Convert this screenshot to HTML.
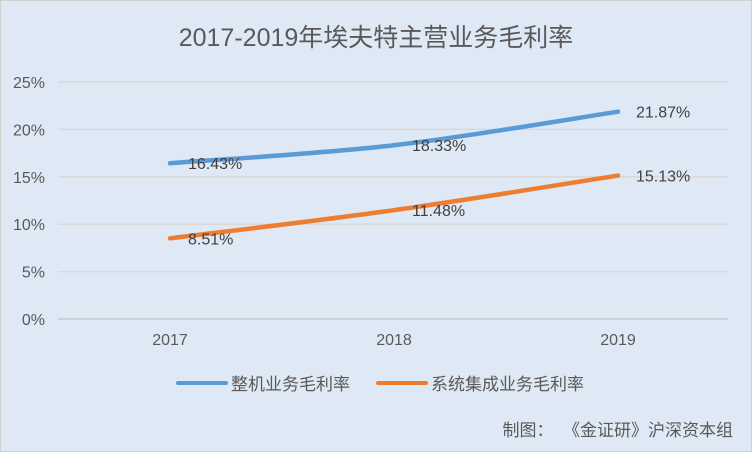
<!DOCTYPE html>
<html><head><meta charset="utf-8"><style>
body{margin:0;background:#fff}
svg{display:block;font-family:"Liberation Sans","Noto Sans CJK SC",sans-serif}
</style></head><body>
<svg id="c" width="752" height="452">
<rect x="0.5" y="0.5" width="751" height="451" fill="#dfe9f5" stroke="#d0d0d0"/>
<text x="376" y="46" text-anchor="middle" font-size="25" fill="#595959">2017-2019年埃夫特主营业务毛利率</text>
<g id="grid"></g><g id="series"></g>
<g>
<line x1="178" y1="383" x2="226" y2="383" stroke="#5b9bd5" stroke-width="4" stroke-linecap="round"/>
<text x="231" y="390" font-size="17" fill="#595959">整机业务毛利率</text>
<line x1="378" y1="383" x2="426" y2="383" stroke="#ed7d31" stroke-width="4" stroke-linecap="round"/>
<text x="431" y="390" font-size="17" fill="#595959">系统集成业务毛利率</text>
</g>
<text x="733" y="436" text-anchor="end" font-size="17" fill="#595959" xml:space="preserve">制图：  《金证研》沪深资本组</text>
</svg>
<script>
const categories=["2017","2018","2019"];
const machineValues=[16.43,18.33,21.87];
const systemValues=[8.51,11.48,15.13];
const yTicks=[0,5,10,15,20,25];
const NS="http://www.w3.org/2000/svg";
const xS=i=>170+i*224;
const yS=v=>319-v*(237/25);
function mk(t,a,p){const e=document.createElementNS(NS,t);for(const k in a)e.setAttribute(k,a[k]);p.appendChild(e);return e;}
const g=document.getElementById('grid');
yTicks.forEach(v=>{
 const l=mk('line',{x1:58,x2:728,y1:yS(v),y2:yS(v),stroke:v===0?'#c8c8c8':'#d9d9d9','stroke-width':1.5},g);
 
 
 const t=mk('text',{x:45,y:yS(v)+6,'text-anchor':'end','font-size':16,fill:'#595959'},g);
 t.textContent=v+'%';
 
 
});
categories.forEach((c,i)=>{
 const t=mk('text',{x:xS(i),y:345,'text-anchor':'middle','font-size':16,fill:'#595959'},g);
 t.textContent=c;
 
 
});
const s=document.getElementById('series');
function path(vals){
 const p=vals.map((v,i)=>[xS(i),yS(v)]);
 let d='M'+p[0];
 for(let i=0;i<p.length-1;i++){
  const p0=p[i-1]||p[i],p1=p[i],p2=p[i+1],p3=p[i+2]||p2,k=0.17;
  d+=` C${p1[0]+(p2[0]-p0[0])*k},${p1[1]+(p2[1]-p0[1])*k} ${p2[0]-(p3[0]-p1[0])*k},${p2[1]-(p3[1]-p1[1])*k} ${p2[0]},${p2[1]}`;
 }
 return d;
}
[[machineValues,'#5b9bd5','machine'],[systemValues,'#ed7d31','system']].forEach(([vals,col,nm])=>{
 const p=mk('path',{d:path(vals),fill:'none',stroke:col,'stroke-width':4.5,'stroke-linecap':'round'},s);
 
 
 vals.forEach((v,i)=>{
  const t=mk('text',{x:xS(i)+18,y:yS(v)+6,'font-size':16,fill:'#404040'},s);
  t.textContent=v.toFixed(2)+'%';
  
  
 });
});
</script>
</body></html>
